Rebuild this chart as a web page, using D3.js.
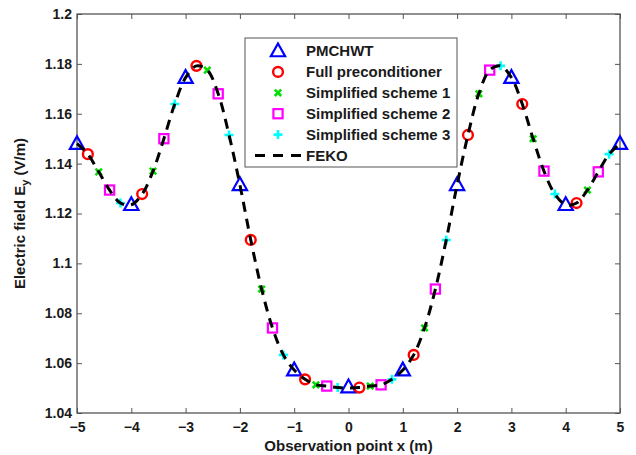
<!DOCTYPE html>
<html><head><meta charset="utf-8">
<script src="https://cdn.jsdelivr.net/npm/d3@7"></script>
<style>body{margin:0;background:#fff}svg{display:block}text{font-family:"Liberation Sans",Arial,sans-serif;font-weight:bold}</style>
</head><body>
<svg id="c" width="636" height="455"></svg>
<script>
const xTicks = [-5,-4,-3,-2,-1,0,1,2,3,4,5];
const yTicks = [1.04,1.06,1.08,1.1,1.12,1.14,1.16,1.18,1.2];
const legendLabels = ["PMCHWT","Full preconditioner","Simplified scheme 1","Simplified scheme 2","Simplified scheme 3","FEKO"];

const xPM = [-5,-4,-3,-2,-1,0,1,2,3,4,5];
const yPM = [1.148,1.1235,1.1745,1.1315,1.0572,1.0504,1.0572,1.1315,1.1745,1.1235,1.148];
const xFull = [-4.8,-3.8,-2.8,-1.8,-0.8,0.2,1.2,2.2,3.2,4.2];
const yFull = [1.1438,1.1278,1.1792,1.1094,1.0535,1.0502,1.0633,1.1515,1.1639,1.1242];
const xS1 = [-4.6,-3.6,-2.6,-1.6,-0.6,0.4,1.4,2.4,3.4,4.4];
const yS1 = [1.1367,1.137,1.1775,1.0897,1.0513,1.0508,1.0741,1.168,1.150,1.1294];
const xS2 = [-4.4,-3.4,-2.4,-1.4,-0.4,0.6,1.6,2.6,3.6,4.6];
const yS2 = [1.1294,1.150,1.168,1.0741,1.0508,1.0513,1.0897,1.1775,1.137,1.1367];
const xS3 = [-4.2,-3.2,-2.2,-1.2,-0.2,0.8,1.8,2.8,3.8,4.8];
const yS3 = [1.1242,1.1639,1.1515,1.0633,1.0502,1.0535,1.1094,1.1792,1.1278,1.1438];
const xFEKO = [-5,-4.8,-4.6,-4.4,-4.2,-4,-3.8,-3.6,-3.4,-3.2,-3,-2.8,-2.6,-2.4,-2.2,-2,-1.8,-1.6,-1.4,-1.2,-1,-0.8,-0.6,-0.4,-0.2,0,0.2,0.4,0.6,0.8,1,1.2,1.4,1.6,1.8,2,2.2,2.4,2.6,2.8,3,3.2,3.4,3.6,3.8,4,4.2,4.4,4.6,4.8,5];
const yFEKO = [1.148,1.1438,1.1367,1.1294,1.1242,1.1235,1.1278,1.137,1.150,1.1639,1.1745,1.1792,1.1775,1.168,1.1515,1.1315,1.1094,1.0897,1.0741,1.0633,1.0572,1.0535,1.0513,1.0508,1.0502,1.0500,1.0502,1.0508,1.0513,1.0535,1.0572,1.0633,1.0741,1.0897,1.1094,1.1315,1.1515,1.168,1.1775,1.1792,1.1745,1.1639,1.150,1.137,1.1278,1.1235,1.1242,1.1294,1.1367,1.1438,1.148];

const L=77, R=620, T=14, B=413;
const svg = d3.select("#c");
const x = d3.scaleLinear().domain([-5,5]).range([L,R]);
const y = d3.scaleLinear().domain([1.04,1.2]).range([B,T]);
const axisColor = "#555";
const fmtX = d => d < 0 ? "\u2212" + Math.abs(d) : String(d);
const fmtY = d => String(+d.toFixed(2));

svg.append("rect").attr("x",L).attr("y",T).attr("width",R-L).attr("height",B-T).attr("fill","#fff");

function styleAxis(g){
  g.select(".domain").remove();
  g.selectAll(".tick line").attr("stroke",axisColor).attr("stroke-width",1);
  g.selectAll("text").attr("fill","#1a1a1a").style("font-size","14px").style("font-weight","bold");
}
svg.append("g").attr("transform",`translate(0,${B})`)
  .call(d3.axisBottom(x).tickValues(xTicks).tickFormat(fmtX).tickSize(-5).tickPadding(9)).call(styleAxis);
svg.append("g").attr("transform",`translate(0,${T})`)
  .call(d3.axisTop(x).tickValues(xTicks).tickFormat("").tickSize(-5)).call(styleAxis);
svg.append("g").attr("transform",`translate(${L},0)`)
  .call(d3.axisLeft(y).tickValues(yTicks).tickFormat(fmtY).tickSize(-5).tickPadding(5)).call(styleAxis);
svg.append("g").attr("transform",`translate(${R},0)`)
  .call(d3.axisRight(y).tickValues(yTicks).tickFormat("").tickSize(-5)).call(styleAxis);
svg.append("rect").attr("x",L).attr("y",T).attr("width",R-L).attr("height",B-T)
  .attr("fill","none").attr("stroke",axisColor).attr("stroke-width",1.3);

// markers
function drawMarker(g, type, cx, cy){
  if(type==="tri"){
    const s=7.5;
    g.append("path").attr("d",`M${cx},${cy-s}L${cx+s*0.95},${cy+s*0.7}L${cx-s*0.95},${cy+s*0.7}Z`)
      .attr("fill","none").attr("stroke","#0000ff").attr("stroke-width",2.2);
  } else if(type==="circ"){
    g.append("circle").attr("cx",cx).attr("cy",cy).attr("r",4.9)
      .attr("fill","none").attr("stroke","#ff0000").attr("stroke-width",2.4);
  } else if(type==="x"){
    const s=3.2;
    g.append("path").attr("d",`M${cx-s},${cy-s}L${cx+s},${cy+s}M${cx-s},${cy+s}L${cx+s},${cy-s}`)
      .attr("stroke","#00e000").attr("stroke-width",2.6).attr("fill","none");
  } else if(type==="sq"){
    const s=4.6;
    g.append("rect").attr("x",cx-s).attr("y",cy-s).attr("width",2*s).attr("height",2*s)
      .attr("fill","none").attr("stroke","#ff00ff").attr("stroke-width",2.2);
  } else if(type==="plus"){
    const s=4.5;
    g.append("path").attr("d",`M${cx-s},${cy}L${cx+s},${cy}M${cx},${cy-s}L${cx},${cy+s}`)
      .attr("stroke","#00ffff").attr("stroke-width",2.6).attr("fill","none");
  }
}
const series = [
  {t:"tri", xs:xPM, ys:yPM},
  {t:"circ", xs:xFull, ys:yFull},
  {t:"x", xs:xS1, ys:yS1},
  {t:"sq", xs:xS2, ys:yS2},
  {t:"plus", xs:xS3, ys:yS3}
];
const mg = svg.append("g");
series.forEach(s => s.xs.forEach((xv,i) => drawMarker(mg, s.t, x(xv), y(s.ys[i]))));

// FEKO line
const line = d3.line().x(d=>x(d[0])).y(d=>y(d[1])).curve(d3.curveCatmullRom);
svg.append("path").datum(xFEKO.map((v,i)=>[v,yFEKO[i]])).attr("d",line)
  .attr("fill","none").attr("stroke","#000").attr("stroke-width",3).attr("stroke-dasharray","10,7");

// legend
const lg = svg.append("g");
lg.append("rect").attr("x",245).attr("y",38).attr("width",212).attr("height",129)
  .attr("fill","#fff").attr("stroke",axisColor).attr("stroke-width",1);
const types = ["tri","circ","x","sq","plus","line"];
legendLabels.forEach((lab,i)=>{
  const ry = 51 + i*20.9;
  if(types[i]==="line"){
    lg.append("line").attr("x1",255).attr("x2",301).attr("y1",ry).attr("y2",ry)
      .attr("stroke","#000").attr("stroke-width",3).attr("stroke-dasharray","10,8");
  } else drawMarker(lg, types[i], 278, ry);
  lg.append("text").attr("x",306).attr("y",ry).attr("dy","0.36em").attr("fill","#1a1a1a")
    .style("font-size","15px").text(lab);
});

// axis titles
svg.append("text").attr("x",(L+R)/2).attr("y",451).attr("text-anchor","middle").attr("fill","#1a1a1a")
  .style("font-size","15px").text("Observation point x (m)");
const yt = svg.append("text").attr("transform",`translate(25,${(T+B)/2}) rotate(-90)`)
  .attr("text-anchor","middle").attr("fill","#1a1a1a").style("font-size","15px");
yt.append("tspan").text("Electric field E");
yt.append("tspan").attr("dy",4).style("font-size","11px").text("y");
yt.append("tspan").attr("dy",-4).text(" (V/m)");
</script>
</body></html>
